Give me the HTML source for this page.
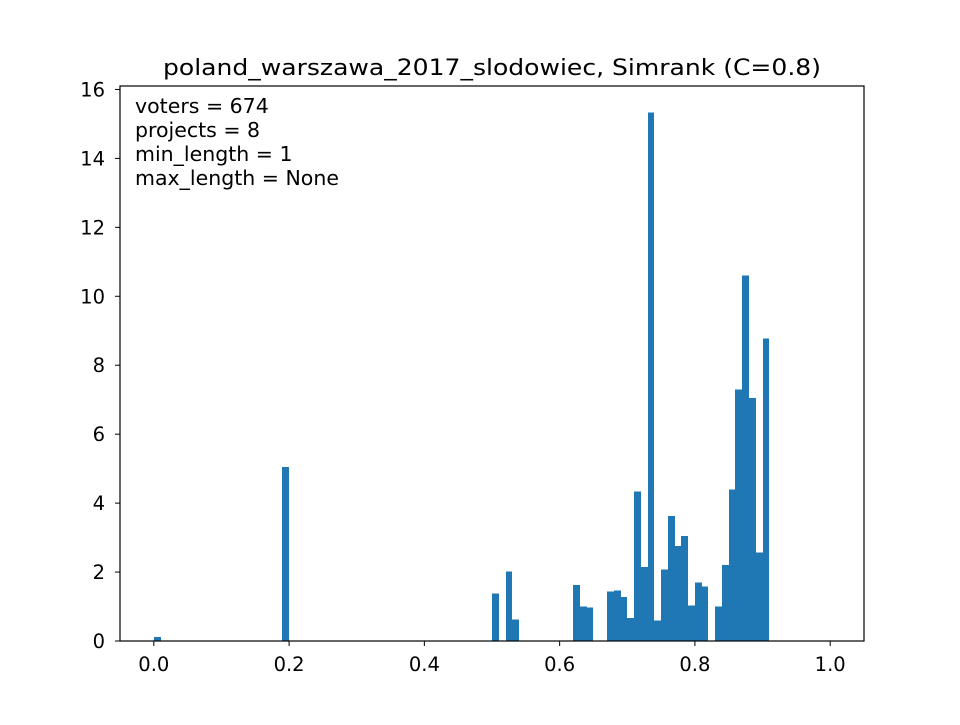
<!DOCTYPE html>
<html><head><meta charset="utf-8"><style>
body{margin:0;background:#fff;}
svg text{font-family:"DejaVu Sans","Liberation Sans",sans-serif;fill:#000;}
</style></head><body>
<svg id="chart" width="960" height="720" xmlns="http://www.w3.org/2000/svg">
<rect width="960" height="720" fill="#fff"/>
<text x="492" y="75" font-size="22.5" text-anchor="middle" textLength="658" lengthAdjust="spacingAndGlyphs">poland_warszawa_2017_slodowiec, Simrank (C=0.8)</text>
<g id="bars" shape-rendering="crispEdges"></g>
<g id="axes"></g>
<g font-size="20.5">
<text x="135" y="113">voters = 674</text>
<text x="135" y="137">projects = 8</text>
<text x="135" y="161">min_length = 1</text>
<text x="135" y="185">max_length = None</text>
</g>
</svg>
<script>
const binStarts=[0.00,0.19,0.50,0.52,0.53,0.62,0.63,0.64,0.67,0.68,0.69,0.70,0.71,0.72,0.73,0.74,0.75,0.76,0.77,0.78,0.79,0.80,0.81,0.83,0.84,0.85,0.86,0.87,0.88,0.89,0.90];
const binHeights=[0.12,5.05,1.38,2.02,0.63,1.62,1.0,0.97,1.43,1.47,1.27,0.67,4.33,2.15,15.33,0.6,2.08,3.62,2.75,3.05,1.03,1.7,1.58,1.0,2.2,4.4,7.3,10.6,7.05,2.57,8.78];
const binWidth=0.01;
const xTicks=[0.0,0.2,0.4,0.6,0.8,1.0];
const xTickLabels=["0.0","0.2","0.4","0.6","0.8","1.0"];
const yTicks=[0,2,4,6,8,10,12,14,16];
const yTickLabels=["0","2","4","6","8","10","12","14","16"];
const L=120,R=864,T=86,B=641;
const xMin=-0.05,xMax=1.05,yMin=0,yMax=16.1;
const sx=v=>L+(v-xMin)/(xMax-xMin)*(R-L);
const sy=v=>B-(v-yMin)/(yMax-yMin)*(B-T);
const NS="http://www.w3.org/2000/svg";
const bars=document.getElementById('bars');
binStarts.forEach((s,i)=>{
  const r=document.createElementNS(NS,'rect');
  const x0=sx(s),x1=sx(s+binWidth),y=sy(binHeights[i]);
  r.setAttribute('x',Math.round(x0));r.setAttribute('width',Math.round(x1)-Math.round(x0));
  r.setAttribute('y',y);r.setAttribute('height',B-y);
  r.setAttribute('fill','#1f77b4');
  
  
  bars.appendChild(r);
});
const ax=document.getElementById('axes');
const fr=document.createElementNS(NS,'rect');
fr.setAttribute('x',L);fr.setAttribute('y',T);fr.setAttribute('width',R-L);fr.setAttribute('height',B-T);
fr.setAttribute('fill','none');fr.setAttribute('stroke','#000');fr.setAttribute('stroke-width','1.2');


ax.appendChild(fr);
xTicks.forEach((v,i)=>{
  const x=sx(v);
  const l=document.createElementNS(NS,'line');
  l.setAttribute('x1',x);l.setAttribute('x2',x);l.setAttribute('y1',B);l.setAttribute('y2',B+5);
  l.setAttribute('stroke','#000');
  
  
  ax.appendChild(l);
  const t=document.createElementNS(NS,'text');
  t.setAttribute('x',x);t.setAttribute('y',B+30);t.setAttribute('text-anchor','middle');t.setAttribute('font-size','19.5');
  t.textContent=xTickLabels[i];
  
  
  ax.appendChild(t);
});
yTicks.forEach((v,i)=>{
  const y=sy(v);
  const l=document.createElementNS(NS,'line');
  l.setAttribute('x1',L-5);l.setAttribute('x2',L);l.setAttribute('y1',y);l.setAttribute('y2',y);
  l.setAttribute('stroke','#000');
  
  
  ax.appendChild(l);
  const t=document.createElementNS(NS,'text');
  t.setAttribute('x',L-15);t.setAttribute('y',y+7);t.setAttribute('text-anchor','end');t.setAttribute('font-size','19.5');
  t.textContent=yTickLabels[i];
  
  
  ax.appendChild(t);
});
</script>
</body></html>
